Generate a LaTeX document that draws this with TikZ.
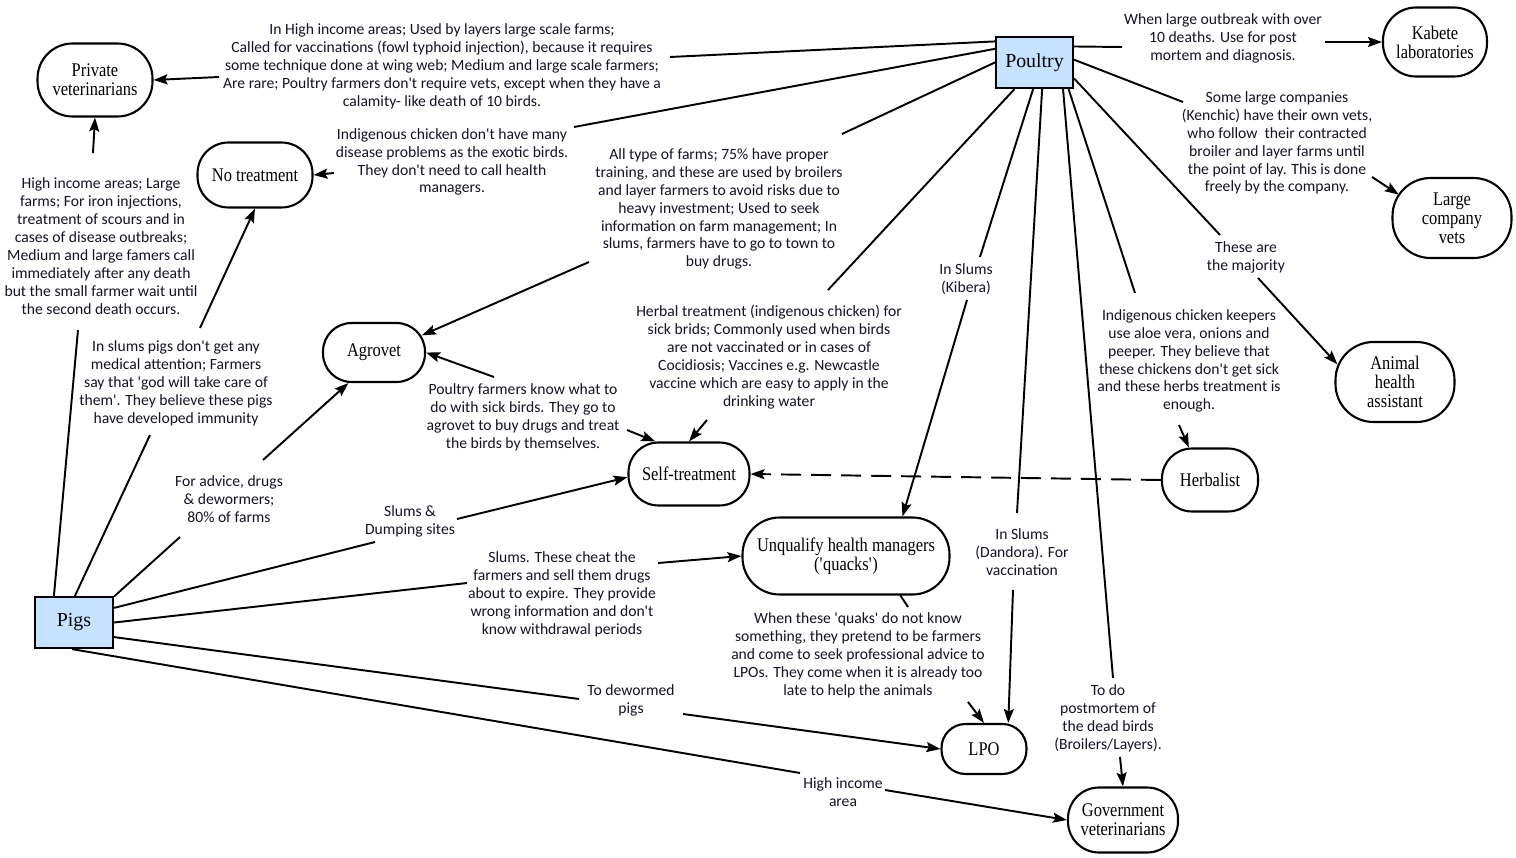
\documentclass[tikz,border=0pt]{standalone}
\usepackage{fontspec}
\setmainfont{Carlito}
\newfontfamily\nodeserif{Liberation Serif}[FakeStretch=0.85]
\newfontfamily\boxserif{Liberation Serif}
\usetikzlibrary{arrows.meta}
\newcommand{\ap}{\textquotesingle}
\definecolor{boxblue}{RGB}{198,226,255}
\definecolor{labtext}{RGB}{20,20,35}
\tikzset{
  animal/.style={draw, line width=1.3pt, fill=boxblue, inner sep=0pt,
    font=\boxserif\fontsize{11.3}{12}\selectfont},
  actor/.style={draw, line width=1.2pt, inner sep=0pt, align=center,
    rounded corners=#1, font=\nodeserif\fontsize{11}{10.8}\selectfont},
  actor/.default=0.6cm,
  lab/.style={align=center, inner sep=0pt, text=labtext,
    font=\fontsize{8.9}{10.2}\selectfont},
  conn/.style={line width=1.1pt},
  arr/.style={line width=1.1pt, -{Stealth[length=2.8mm,width=2mm,inset=0.5mm]}},
  dasharr/.style={arr, dash pattern=on 4mm off 2mm},
}
\begin{document}
\begin{tikzpicture}[x=0.02cm,y=-0.02cm]
\fill[white] (0,0) rectangle (1516,858);
\useasboundingbox (0,0) rectangle (1516,858);

% ---- main nodes
\node[animal, minimum width=1.54cm, minimum height=1.02cm] (poultry) at (1034.5,62.5) {Poultry};
\node[animal, minimum width=1.56cm, minimum height=1.02cm] (pigs) at (74,622.5) {Pigs};
\node[actor=0.7cm, minimum width=2.3cm, minimum height=1.46cm] (pv) at (95,80) {Private\\veterinarians};
\node[actor=0.66cm, minimum width=2.08cm, minimum height=1.38cm] (kab) at (1435,42) {Kabete\\laboratories};
\node[actor=0.62cm, minimum width=2.3cm, minimum height=1.3cm] (notr) at (255,175) {No treatment};
\node[actor=0.76cm, minimum width=2.38cm, minimum height=1.6cm] (lcv) at (1452,218) {Large\\company\\vets};
\node[actor=0.57cm, minimum width=2.04cm, minimum height=1.18cm] (agro) at (374,352.5) {Agrovet};
\node[actor=0.76cm, minimum width=2.38cm, minimum height=1.6cm] (aha) at (1395,382) {Animal\\health\\assistant};
\node[actor=0.6cm, minimum width=2.42cm, minimum height=1.26cm] (self) at (689,474) {Self-treatment};
\node[actor=0.6cm, minimum width=1.92cm, minimum height=1.26cm] (herb) at (1210,480) {Herbalist};
\node[actor=0.74cm, minimum width=4.14cm, minimum height=1.54cm] (unq) at (846,556) {Unqualify health managers\\(\ap quacks\ap)};
\node[actor=0.48cm, minimum width=1.7cm, minimum height=1.0cm] (lpo) at (984,749) {LPO};
\node[actor=0.62cm, minimum width=2.2cm, minimum height=1.3cm] (gov) at (1123,820) {Government\\veterinarians};

% ---- labels
\node[lab] (lpvp) at (442,66) {In High income areas; Used by layers large scale farms;\\Called for vaccinations (fowl typhoid injection), because it requires\\some technique done at wing web; Medium and large scale farmers;\\Are rare; Poultry farmers don\ap t require vets, except when they have a\\calamity- like death of 10 birds.};
\node[lab] (lkab) at (1223,38) {When large outbreak with over\\10 deaths. Use for post\\mortem and diagnosis.};
\node[lab] (lnotr) at (452,162) {Indigenous chicken don\ap t have many\\disease problems as the exotic birds.\\They don\ap t need to call health\\managers.};
\node[lab] (lagro) at (719,209) {All type of farms; 75\% have proper\\training, and these are used by broilers\\and layer farmers to avoid risks due to\\heavy investment; Used to seek\\information on farm management; In\\slums, farmers have to go to town to\\buy drugs.};
\node[lab] (llcv) at (1277,143) {Some large companies\\(Kenchic) have their own vets,\\who follow\ \ their contracted\\broiler and layer farms until\\the point of lay. This is done\\freely by the company.};
\node[lab] (laha) at (1246,257.5) {These are\\the majority};
\node[lab] (lkib) at (966,279.5) {In Slums\\(Kibera)};
\node[lab] (lherb) at (1189,361) {Indigenous chicken keepers\\use aloe vera, onions and\\peeper. They believe that\\these chickens don\ap t get sick\\and these herbs treatment is\\enough.};
\node[lab] (lself) at (769,357) {Herbal treatment (indigenous chicken) for\\sick brids; Commonly used when birds\\are not vaccinated or in cases of\\Cocidiosis; Vaccines e.g. Newcastle\\vaccine which are easy to apply in the\\drinking water};
\node[lab] (lpvpig) at (101,246) {High income areas; Large\\farms; For iron injections,\\treatment of scours and in\\cases of disease outbreaks;\\Medium and large famers call\\immediately after any death\\but the small farmer wait until\\the second death occurs.};
\node[lab] (lnotrpig) at (176,383) {In slums pigs don\ap t get any\\medical attention; Farmers\\say that \ap god will take care of\\them\ap . They believe these pigs\\have developed immunity};
\node[lab] (lagro2) at (523,417) {Poultry farmers know what to\\do with sick birds. They go to\\agrovet to buy drugs and treat\\the birds by themselves.};
\node[lab] (ladv) at (229,499.5) {For advice, drugs\\\& dewormers;\\80\% of farms};
\node[lab] (lslum) at (410,521) {Slums \&\\Dumping sites};
\node[lab] (lcheat) at (562,594) {Slums. These cheat the\\farmers and sell them drugs\\about to expire. They provide\\wrong information and don\ap t\\know withdrawal periods};
\node[lab] (ldew) at (631,700) {To dewormed\\pigs};
\node[lab] (lhigh) at (843,792.5) {High income\\area};
\node[lab] (lquak) at (858,655) {When these \ap quaks\ap\ do not know\\something, they pretend to be farmers\\and come to seek professional advice to\\LPOs. They come when it is already too\\late to help the animals};
\node[lab] (ldand) at (1022,552) {In Slums\\(Dandora). For\\vaccination};
\node[lab] (lpm) at (1108,718.5) {To do\\postmortem of\\the dead birds\\(Broilers/Layers).};

% ---- free ends of connectors
\coordinate (pa1) at (670,57);   \coordinate (pa2) at (219,77);
\coordinate (pb1) at (574,127);  \coordinate (pb2) at (334,173);
\coordinate (pc1) at (842,134);  \coordinate (pc2) at (589,262);
\coordinate (pd1) at (828,290);  \coordinate (pd2) at (707,420);
\coordinate (pe1) at (980,257);  \coordinate (pe2) at (967,300);
\coordinate (pf1) at (1017,513); \coordinate (pf2) at (1013,590);
\coordinate (pg1) at (1113,678); \coordinate (pg2) at (1120,757);
\coordinate (ph1) at (1135,293); \coordinate (ph2) at (1179,425);
\coordinate (pi1) at (1220,235); \coordinate (pi2) at (1258,278);
\coordinate (pj1) at (1183,102); \coordinate (pj2) at (1372,177);
\coordinate (pk1) at (1122,47);  \coordinate (pk2) at (1325,42);
\coordinate (ag1) at (494,377);  \coordinate (ag2) at (627,430);
\coordinate (qu1) at (908,607);  \coordinate (qu2) at (968,702);
\coordinate (g1a) at (78,330);   \coordinate (g1b) at (93,153);
\coordinate (g2a) at (150,435);  \coordinate (g2b) at (200,328);
\coordinate (g3a) at (180,537);  \coordinate (g3b) at (263,460);
\coordinate (g4a) at (375,542);  \coordinate (g4b) at (457,519);
\coordinate (g5a) at (467,583);  \coordinate (g5b) at (658,563);
\coordinate (g6a) at (579,699);  \coordinate (g6b) at (683,714);
\coordinate (g7a) at (800,773);  \coordinate (g7b) at (885,790);

% ---- poultry connectors
\draw[conn] (poultry.152) -- (pa1);  \draw[arr] (pa2) -- (pv.east);
\draw[conn] (poultry.161) -- (pb1);  \draw[arr] (pb2) -- (notr.east);
\draw[conn] (poultry.180) -- (pc1);  \draw[arr, shorten >=-2.5pt] (pc2) -- (agro.20);
\draw[conn] (poultry.233) -- (pd1);  \draw[arr] (pd2) -- (self.north);
\draw[conn] (poultry.267) -- (pe1);  \draw[arr] (pe2) -- (unq.35);
\draw[conn] (poultry.286) -- (pf1);  \draw[arr] (pf2) -- (lpo.47);
\draw[conn] (poultry.317) -- (pg1);  \draw[arr] (pg2) -- (gov.north);
\draw[conn] (poultry.322) -- (ph1);  \draw[arr] (ph2) -- (herb.123);
\draw[conn] (poultry.338) -- (pi1);  \draw[arr, shorten >=-2.5pt] (pi2) -- (aha.161);
\draw[conn] (poultry.4)   -- (pj1);  \draw[arr, shorten >=-5pt] (pj2) -- (lcv.155);
\draw[conn] (poultry.22)  -- (pk1);  \draw[arr] (pk2) -- (kab.west);

% ---- other connectors
\draw[arr] (ag1) -- (agro.east);
\draw[arr] (ag2) -- (self.136);
\draw[conn] (unq.324) -- (qu1);
\draw[arr] (qu2) -- (lpo.north);
\draw[dasharr] (herb.west) -- (self.east);

% ---- pig connectors
\draw[conn] (pigs.127) -- (g1a);  \draw[arr] (g1b) -- (pv.south);
\draw[conn] (pigs.88)  -- (g2a);  \draw[arr] (g2b) -- (notr.south);
\draw[conn] (pigs.33)  -- (g3a);  \draw[arr] (g3b) -- (agro.230);
\draw[conn] (pigs.20)  -- (g4a);  \draw[arr] (g4b) -- (self.183);
\draw[conn] (pigs.0)   -- (g5a);  \draw[arr] (g5b) -- (unq.west);
\draw[conn] (pigs.340) -- (g6a);  \draw[arr] (g6b) -- (lpo.west);
\draw[conn] (pigs.266) -- (g7a);  \draw[arr] (g7b) -- (gov.west);
\end{tikzpicture}
\end{document}
